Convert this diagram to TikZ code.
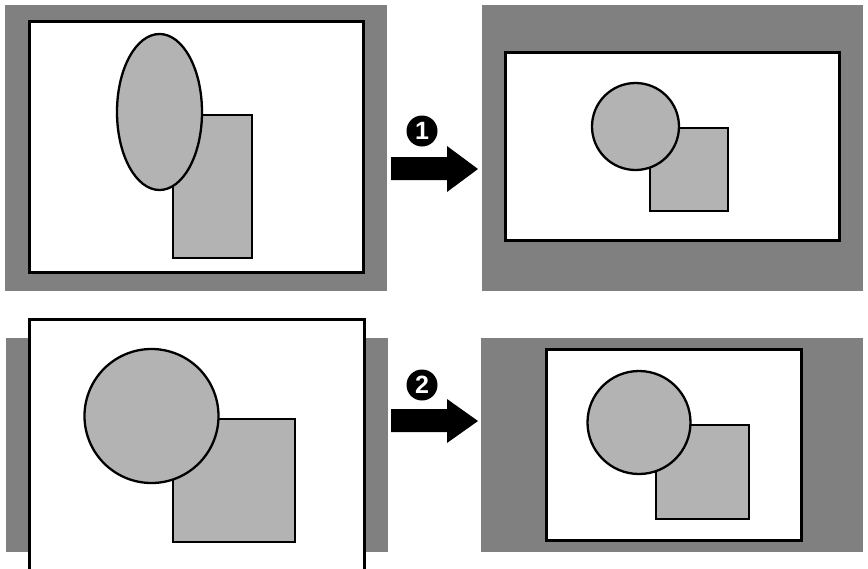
\documentclass[tikz,border=0pt]{standalone}
\usepackage{fontspec}
\setsansfont{Liberation Sans}
\usepackage{tikz}
\usetikzlibrary{shapes.geometric, positioning}

\definecolor{bordergray}{HTML}{808080}
\definecolor{shapegray}{HTML}{B3B3B3}

\begin{document}
\begin{tikzpicture}[x=1pt, y=-1pt, inner sep=0pt, outer sep=0pt,
	screen/.style={rectangle, fill=bordergray},
	frame/.style={rectangle, draw, fill=white, line width=3pt},
	box node/.style={rectangle, draw, fill=shapegray, line width=2.3pt},
	round node/.style={circle, draw, fill=shapegray, line width=2.3pt},
	badge/.style={circle, fill=black, text=white, minimum size=31pt, font=\sffamily\bfseries\fontsize{25}{25}\selectfont}]
		
		\useasboundingbox (0,0) rectangle (868,568);
		
		% Panel top left
		\node[screen, minimum width=382pt, minimum height=286pt] (S1) at (196,148) {};
		\node[frame, minimum width=334pt, minimum height=251pt] (F1) at (196,146.5) {};
		\node[box node, minimum width=79pt, minimum height=143pt] (R1) at (212.5,186.5) {};
		\node[ellipse, draw, fill=shapegray, line width=2.3pt, minimum width=85pt, minimum height=156pt] (E1) at (159.5,112) {};
		
		% Panel top right
		\node[screen, minimum width=381pt, minimum height=286pt] (S2) at (672.5,148) {};
		\node[frame, minimum width=334pt, minimum height=188pt] (F2) at (672,146) {};
		\node[box node, minimum width=78pt, minimum height=83pt] (R2) at (689,169.5) {};
		\node[round node, minimum size=87pt] (C2) at (635.5,126.5) {};
		
		% Panel bottom left
		\node[screen, minimum width=382pt, minimum height=214pt] (S3) at (197,445) {};
		\node[frame, minimum width=335pt, minimum height=256pt] (F3) at (196.5,447) {};
		\node[box node, minimum width=122pt, minimum height=123pt] (R3) at (234,480.5) {};
		\node[round node, minimum size=134pt] (C3) at (151.5,416) {};
		
		% Panel bottom right
		\node[screen, minimum width=382pt, minimum height=214pt] (S4) at (672,445) {};
		\node[frame, minimum width=255pt, minimum height=191pt] (F4) at (673.5,444.5) {};
		\node[box node, minimum width=93pt, minimum height=94pt] (R4) at (702.5,472) {};
		\node[round node, minimum size=103pt] (C4) at (639,422.5) {};
		
		% Steps
		\node[badge] (one) at (422,131) {1};
		\fill[black] (391,157) -- (447,157) -- (447,146) -- (478,169) -- (447,192) -- (447,180) -- (391,180) -- cycle;
		
		\node[badge] (two) at (422,385) {2};
		\fill[black] (391,409) -- (447,409) -- (447,399) -- (478,421) -- (447,443) -- (447,432) -- (391,432) -- cycle;
	\end{tikzpicture}
\end{document}
